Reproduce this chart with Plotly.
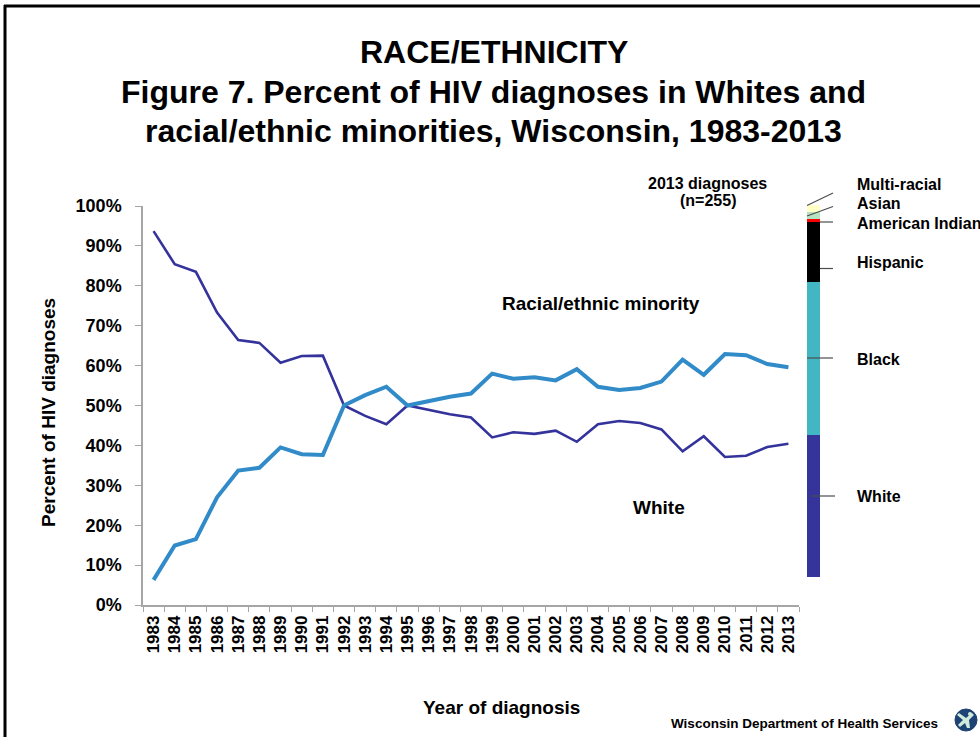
import plotly.graph_objects as go

# ---- data -------------------------------------------------------------
years = [str(y) for y in range(1983, 2014)]

white_pct = [93.7, 85.4, 83.5, 73.3, 66.4, 65.7, 60.7, 62.4, 62.5, 50.0,
             47.4, 45.3, 50.0, 48.9, 47.8, 47.0, 42.0, 43.3, 42.9, 43.7,
             40.9, 45.3, 46.1, 45.6, 44.0, 38.5, 42.3, 37.1, 37.4, 39.6, 40.4]

minority_pct = [6.3, 14.9, 16.5, 27.0, 33.7, 34.4, 39.5, 37.8, 37.6, 50.0,
                52.6, 54.7, 50.0, 51.1, 52.2, 53.0, 58.0, 56.7, 57.1, 56.3,
                59.1, 54.7, 53.9, 54.4, 56.0, 61.5, 57.7, 62.9, 62.6, 60.4, 59.6]

# 2013 diagnoses (n=255) by race/ethnicity, percent of total
groups_2013 = ["White", "Black", "Hispanic", "American Indian", "Asian", "Multi-racial"]
shares_2013 = [38.1, 41.3, 15.9, 0.9, 2.0, 1.8]

y_ticks = list(range(0, 101, 10))

# ---- styling ----------------------------------------------------------
FONT = "Liberation Sans, Arial, sans-serif"
WHITE_LINE = "#34329b"
MINORITY_LINE = "#318bc8"
group_colors = {
    "White": "#35349a",
    "Black": "#43b6c4",
    "Hispanic": "#000000",
    "American Indian": "#ff0000",
    "Asian": "#b4e2c2",
    "Multi-racial": "#ffffc6",
}

W, H = 980, 737
L, R, T, B = 143, 140, 204, 132
PW, PH = W - L - R, H - T - B


def px(x):
    return (x - L) / PW


def py(y):
    return (H - B - y) / PH


fig = go.Figure()

fig.add_trace(go.Scatter(x=years, y=white_pct, mode="lines", name="White",
                         line=dict(color=WHITE_LINE, width=2.6),
                         showlegend=False))
fig.add_trace(go.Scatter(x=years, y=minority_pct, mode="lines",
                         name="Racial/ethnic minority",
                         line=dict(color=MINORITY_LINE, width=4),
                         showlegend=False))

for g, v in zip(groups_2013, shares_2013):
    fig.add_trace(go.Bar(x=["2013"], y=[v], name=g, xaxis="x2", yaxis="y2",
                         marker=dict(color=group_colors[g], line=dict(width=0)),
                         width=1, showlegend=False))

# bar axis scale: 0 at y=576.7 px, 100 at y=205 px
bar_unit = (576.7 - 205) / 100.0
y2_lo = -((H - B) - 576.7) / bar_unit
y2_hi = 100 + (205 - T) / bar_unit

fig.update_layout(
    width=W, height=H,
    margin=dict(l=L, r=R, t=T, b=B, pad=0),
    paper_bgcolor="white", plot_bgcolor="white",
    barmode="stack", bargap=0,
    font=dict(family=FONT, color="#000000"),
    xaxis=dict(type="category", domain=[0, px(799)], range=[-0.5, 30.5],
               showline=True, linecolor="#a6a6a6", linewidth=1.5,
               ticks="outside", ticklen=5, tickcolor="#a6a6a6",
               tickson="boundaries", tickangle=-90, showgrid=False,
               tickfont=dict(size=17, weight="bold", family=FONT),
               ticklabelstandoff=2, zeroline=False),
    yaxis=dict(domain=[0, py(206)], range=[0, 100], tickvals=y_ticks,
               ticktext=[f"{t}%" for t in y_ticks],
               showline=True, linecolor="#a6a6a6", linewidth=1.5,
               ticks="outside", ticklen=6, tickcolor="#a6a6a6",
               showgrid=False, zeroline=False,
               tickfont=dict(size=18, weight="bold", family=FONT),
               ticklabelstandoff=10),
    xaxis2=dict(domain=[px(806.7), px(820)], range=[-0.5, 0.5],
                visible=False, anchor="y2"),
    yaxis2=dict(domain=[0, 1], range=[y2_lo, y2_hi], visible=False,
                anchor="x2"),
)

ann = []


def text(x, y, s, size, bold=True, xanchor="center", angle=0):
    ann.append(dict(x=px(x), y=py(y), xref="paper", yref="paper", text=s,
                    showarrow=False, xanchor=xanchor, yanchor="middle",
                    textangle=angle,
                    font=dict(size=size, family=FONT, color="#000000",
                              weight="bold" if bold else "normal")))


# titles
text(494, 52, "RACE/ETHNICITY", 32)
text(493, 92, "Figure 7. Percent of HIV diagnoses in Whites and", 32)
text(493, 131, "racial/ethnic minorities, Wisconsin, 1983-2013", 32)

# axis titles
text(502, 707, "Year of diagnosis", 19)
text(48, 413, "Percent of HIV diagnoses", 19, angle=-90)

# series labels
text(601, 303, "Racial/ethnic minority", 19)
text(659, 507, "White", 19)

# 2013 bar header and segment labels
text(707, 183, "2013 diagnoses", 16)
text(708, 201, "(n=255)", 16)
seg_label_y = {"Multi-racial": 184, "Asian": 203, "American Indian": 223,
               "Hispanic": 262, "Black": 359, "White": 496}
for g in groups_2013:
    text(855, seg_label_y[g], g, 16, xanchor="left")

# footer
text(804, 723, "Wisconsin Department of Health Services", 13.5)

fig.update_layout(annotations=ann)

shapes = []
# leader lines from bar segments to their labels
leaders = [((807, 205.5), (833, 193)),
           ((807, 216), (833, 206.5)),
           ((820, 222), (833, 222)),
           ((820, 268.5), (833, 268.5)),
           ((807, 358), (833, 358)),
           ((811, 496), (835, 496))]
for (x0, y0), (x1, y1) in leaders:
    shapes.append(dict(type="line", xref="paper", yref="paper",
                       x0=px(x0), y0=py(y0), x1=px(x1), y1=py(y1),
                       line=dict(color="#4d4d4d", width=1.2)))

# slide frame (left and top edges)
shapes.append(dict(type="line", xref="paper", yref="paper",
                   x0=px(5), y0=py(5), x1=px(5), y1=py(760),
                   line=dict(color="#000000", width=3)))
shapes.append(dict(type="line", xref="paper", yref="paper",
                   x0=px(4), y0=py(6), x1=px(1000), y1=py(6),
                   line=dict(color="#000000", width=3)))

# department logo
shapes.append(dict(type="circle", xref="paper", yref="paper",
                   x0=px(955), y0=py(731), x1=px(977), y1=py(709),
                   fillcolor="#1d4274", line=dict(color="#1d4274", width=1)))
figure_pts = [(959, 713), (966, 718), (972, 713), (974, 715), (969, 720),
              (970, 728), (967, 728), (965, 723), (960, 727), (958, 725),
              (963, 720), (957, 715)]
path = "M " + " L ".join(f"{px(x):.5f},{py(y):.5f}" for x, y in figure_pts) + " Z"
shapes.append(dict(type="path", xref="paper", yref="paper", path=path,
                   fillcolor="#cfeadc", line=dict(width=0)))
shapes.append(dict(type="circle", xref="paper", yref="paper",
                   x0=px(968), y0=py(716), x1=px(972), y1=py(712),
                   fillcolor="#cfeadc", line=dict(width=0)))

fig.update_layout(shapes=shapes)

fig.write_html("out.html")
